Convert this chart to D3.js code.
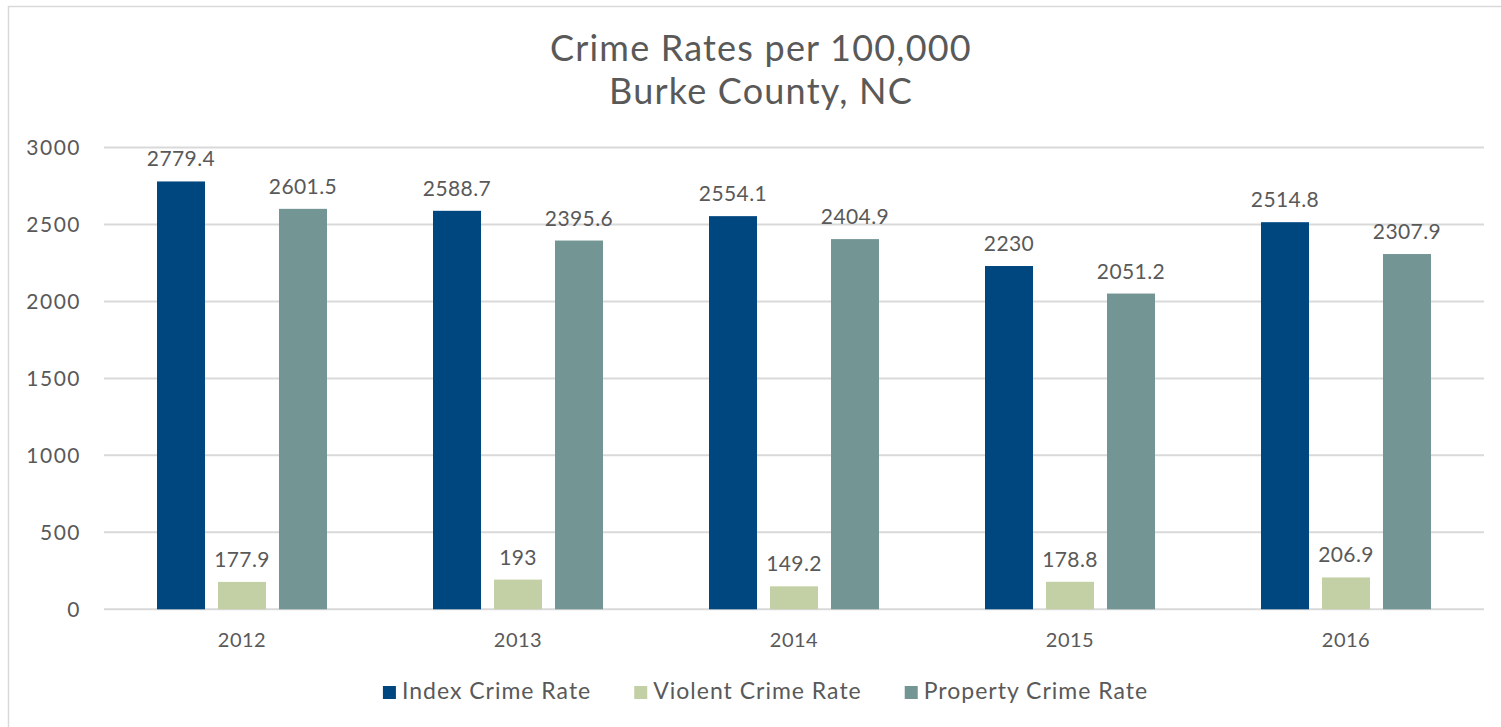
<!DOCTYPE html>
<html>
<head>
<meta charset="utf-8">
<script src="https://cdn.jsdelivr.net/npm/d3@7"></script>
<style>
  html, body { margin: 0; padding: 0; background: #ffffff; }
  svg { display: block; }
  text { font-family: "Lato", "Open Sans", sans-serif; fill: #595959; }
</style>
</head>
<body>
<svg id="chart" width="1501" height="727"></svg>
<script>
// Crime rates per 100,000 residents, Burke County, NC
const years = ["2012", "2013", "2014", "2015", "2016"];
const seriesNames = ["Index Crime Rate", "Violent Crime Rate", "Property Crime Rate"];
const indexRate = [2779.4, 2588.7, 2554.1, 2230, 2514.8];
const violentRate = [177.9, 193, 149.2, 178.8, 206.9];
const propertyRate = [2601.5, 2395.6, 2404.9, 2051.2, 2307.9];
const yTicks = [0, 500, 1000, 1500, 2000, 2500, 3000];
const colors = ["#00467f", "#c3cfa5", "#739593"];

const seriesValues = [indexRate, violentRate, propertyRate];

const svg = d3.select("#chart");

// outer chart frame
svg.append("rect")
  .attr("x", 8.5).attr("y", 6.5)
  .attr("width", 1500).attr("height", 730)
  .attr("fill", "#ffffff")
  .attr("stroke", "#d9d9d9").attr("stroke-width", 1.5);

const plot = { left: 104, right: 1484, top: 147.5, bottom: 609.3 };

const x = d3.scaleBand().domain(years).range([plot.left, plot.right]).padding(0);
const xInner = d3.scaleBand().domain(seriesNames)
  .range([0, x.bandwidth()]).paddingInner(0.213).paddingOuter(0.869);
const y = d3.scaleLinear().domain([0, 3000]).range([plot.bottom, plot.top]);

// title
const title = svg.append("text")
  .attr("text-anchor", "middle")
  .style("font-size", "36px")
  .style("letter-spacing", "1.2px");
title.append("tspan").attr("x", 761).attr("y", 61).text("Crime Rates per 100,000");
title.append("tspan").attr("x", 761).attr("y", 104).text("Burke County, NC");

// gridlines
svg.append("g")
  .selectAll("line")
  .data(yTicks)
  .join("line")
  .attr("x1", plot.left).attr("x2", plot.right)
  .attr("y1", d => y(d)).attr("y2", d => y(d))
  .attr("stroke", "#d9d9d9").attr("stroke-width", 2);

// y axis labels
const yAxis = d3.axisLeft(y).tickValues(yTicks).tickSize(0).tickPadding(23).tickFormat(d3.format("d"));
const gy = svg.append("g").attr("transform", `translate(${plot.left},0)`).call(yAxis);
gy.select(".domain").remove();
gy.selectAll("text")
  .style("font-size", "21px").style("letter-spacing", "1.5px")
  .style("font-family", null).attr("fill", null);

// x axis labels
const xAxis = d3.axisBottom(x).tickSize(0).tickPadding(24);
const gx = svg.append("g").attr("transform", `translate(0,${plot.bottom})`).call(xAxis);
gx.select(".domain").remove();
gx.selectAll("text")
  .style("font-size", "20px").style("letter-spacing", "0.5px")
  .style("font-family", null).attr("fill", null);

// bars and value labels
const rows = [];
years.forEach((yr, i) => {
  seriesNames.forEach((s, j) => {
    rows.push({ year: yr, series: s, value: seriesValues[j][i], color: colors[j] });
  });
});

const groups = svg.append("g");
groups.selectAll("rect")
  .data(rows)
  .join("rect")
  .attr("x", d => x(d.year) + xInner(d.series))
  .attr("y", d => y(d.value))
  .attr("width", xInner.bandwidth())
  .attr("height", d => y(0) - y(d.value))
  .attr("fill", d => d.color);

groups.selectAll("text")
  .data(rows)
  .join("text")
  .attr("x", d => x(d.year) + xInner(d.series) + xInner.bandwidth() / 2)
  .attr("y", d => y(d.value) - 15)
  .attr("text-anchor", "middle")
  .style("font-size", "21px")
  .style("letter-spacing", "0.4px")
  .text(d => d3.format("")(d.value));

// legend, centred under the chart
const legend = svg.append("g");
const items = legend.selectAll("g")
  .data(seriesNames)
  .join("g");
items.append("rect")
  .attr("width", 13).attr("height", 13)
  .attr("y", 686)
  .attr("fill", (d, i) => colors[i]);
items.append("text")
  .attr("x", 19).attr("y", 699)
  .style("font-size", "23px")
  .style("letter-spacing", "1px")
  .text(d => d);

let offset = 0;
const positions = [];
items.each(function () {
  const w = 19 + this.querySelector("text").getComputedTextLength();
  positions.push(offset);
  offset += w + 43;
});
const total = offset - 43;
const start = 765.5 - total / 2;
items.attr("transform", (d, i) => `translate(${start + positions[i]},0)`);
</script>
</body>
</html>
